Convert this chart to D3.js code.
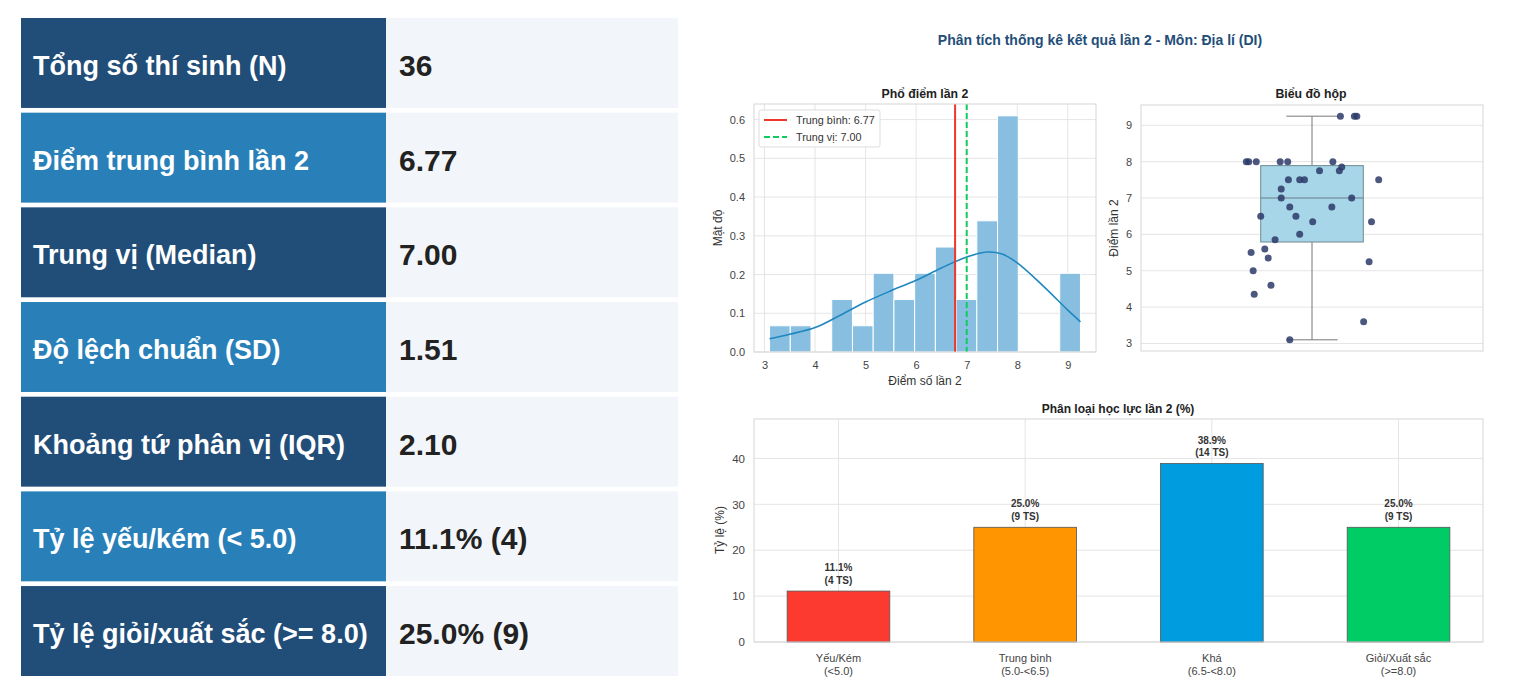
<!DOCTYPE html>
<html>
<head>
<meta charset="utf-8">
<script src="https://cdn.jsdelivr.net/npm/d3@7"></script>
<style>
    body { margin: 0; background: #fff; }
    svg { display: block; font-family: "Liberation Sans", Arial, sans-serif; }
    .grid line { stroke: #dedede; stroke-width: 0.8; }
    .tick text { fill: #444; }
</style>
</head>
<body>
<div id="chart"></div>
<script>
// ---- data ----
const statLabels = ['Tổng số thí sinh (N)', 'Điểm trung bình lần 2', 'Trung vị (Median)', 'Độ lệch chuẩn (SD)',
    'Khoảng tứ phân vị (IQR)', 'Tỷ lệ yếu/kém (< 5.0)', 'Tỷ lệ giỏi/xuất sắc (>= 8.0)'];
const statValues = ['36', '6.77', '7.00', '1.51', '2.10', '11.1% (4)', '25.0% (9)'];

// scores, with their horizontal jitter (category units)
const scores = [3.1, 3.6, 4.35, 4.6, 5.0, 5.25, 5.35, 5.5, 5.6, 5.85, 6.0, 6.35, 6.35, 6.5, 6.5, 6.75, 6.75,
    7.0, 7.0, 7.25, 7.5, 7.5, 7.5, 7.5, 7.75, 7.75, 7.85, 8.0, 8.0, 8.0, 8.0, 8.0, 8.0, 9.25, 9.25, 9.25];
const jitter = [-0.065, 0.151, -0.169, -0.120, -0.172, 0.167, -0.128, -0.178, -0.138, -0.108, -0.036, 0.002, 0.174,
    -0.150, -0.047, -0.065, 0.058, -0.090, 0.116, -0.090, -0.069, -0.036, -0.022, 0.195, 0.022, 0.080, 0.087,
    -0.192, -0.185, -0.163, -0.093, -0.071, 0.061, 0.083, 0.124, 0.131];

// kde curve
const kdeX = [3.1, 3.5, 4.0, 4.5, 5.0, 5.5, 6.0, 6.5, 7.0, 7.4, 7.7, 8.0, 8.5, 9.0, 9.25];
const kdeY = [0.034, 0.046, 0.063, 0.095, 0.129, 0.158, 0.185, 0.217, 0.245, 0.258, 0.253, 0.230, 0.172, 0.108, 0.078];

const meanVal = 6.77, medianVal = 7.00;
const q1 = 5.79, q3 = 7.89, whiskLo = 3.1, whiskHi = 9.25;

const classNames = ['Yếu/Kém', 'Trung bình', 'Khá', 'Giỏi/Xuất sắc'];
const classRanges = ['(<5.0)', '(5.0-<6.5)', '(6.5-<8.0)', '(>=8.0)'];
const classPct = [11.1, 25.0, 38.9, 25.0];
const classCount = [4, 9, 14, 9];
const classColors = ['#fd3a30', '#ff9500', '#009ce0', '#00cc66'];

const histTicksY = [0.0, 0.1, 0.2, 0.3, 0.4, 0.5, 0.6];
const scoreTicks = [3, 4, 5, 6, 7, 8, 9];
const pctTicks = [0, 10, 20, 30, 40];

const width = 1516, height = 700;
const svg = d3.select('#chart').append('svg').attr('width', width).attr('height', height);

// ---- stats table ----
const rowY = d3.scaleBand().domain(d3.range(statLabels.length)).range([18, 676]).paddingInner(0.05);
const rows = svg.append('g').selectAll('g').data(statLabels).enter().append('g')
    .attr('transform', (d, i) => 'translate(0,' + rowY(i) + ')');
rows.append('rect').attr('x', 21).attr('width', 365).attr('height', rowY.bandwidth())
    .attr('fill', (d, i) => i % 2 ? '#2980b9' : '#214d79');
rows.append('rect').attr('x', 386).attr('width', 292).attr('height', rowY.bandwidth())
    .attr('fill', '#f2f6fa');
rows.append('text').attr('x', 33).attr('y', rowY.bandwidth() / 2 + 12)
    .attr('fill', '#fff').attr('font-size', 27).attr('font-weight', 'bold').text(d => d);
rows.append('text').attr('x', 399).attr('y', rowY.bandwidth() / 2 + 13)
    .attr('fill', '#222').attr('font-size', 30).attr('font-weight', 'bold').text((d, i) => statValues[i]);

svg.append('text').attr('x', 1100).attr('y', 45).attr('text-anchor', 'middle')
    .attr('font-size', 14).attr('font-weight', 'bold').attr('fill', '#1f4e79')
    .text('Phân tích thống kê kết quả lần 2 - Môn: Địa lí (DI)');

function frame(g, x0, y0, w, h) {
    g.append('rect').attr('x', x0).attr('y', y0).attr('width', w).attr('height', h)
        .attr('fill', 'none').attr('stroke', '#d6d6d6').attr('stroke-width', 1);
}

// ---- histogram ----
const hx = d3.scaleLinear().domain([2.7925, 9.5575]).range([754, 1096]);
const hy = d3.scaleLinear().domain([0, 0.6403]).range([352, 104]);
const hist = svg.append('g');

hist.append('g').attr('class', 'grid').selectAll('line').data(scoreTicks).enter().append('line')
    .attr('x1', d => hx(d)).attr('x2', d => hx(d)).attr('y1', 104).attr('y2', 352);
hist.append('g').attr('class', 'grid').selectAll('line').data(histTicksY).enter().append('line')
    .attr('x1', 754).attr('x2', 1096).attr('y1', d => hy(d)).attr('y2', d => hy(d));

const binW = (whiskHi - whiskLo) / 15;
const bins = d3.bin().domain([whiskLo, whiskHi])
    .thresholds(d3.range(1, 15).map(i => whiskLo + i * binW))(scores);
hist.append('g').selectAll('rect').data(bins).enter().append('rect')
    .attr('x', d => hx(d.x0)).attr('width', d => hx(d.x1) - hx(d.x0))
    .attr('y', d => hy(d.length / (scores.length * binW)))
    .attr('height', d => hy(0) - hy(d.length / (scores.length * binW)))
    .attr('fill', '#88bfe0').attr('stroke', '#fff').attr('stroke-width', 1);

hist.append('path').datum(kdeX.map((x, i) => [x, kdeY[i]]))
    .attr('d', d3.line().x(d => hx(d[0])).y(d => hy(d[1])).curve(d3.curveCatmullRom))
    .attr('fill', 'none').attr('stroke', '#1f87c0').attr('stroke-width', 1.6);

hist.append('line').attr('x1', hx(meanVal)).attr('x2', hx(meanVal)).attr('y1', 104).attr('y2', 352)
    .attr('stroke', '#f0362b').attr('stroke-width', 2);
hist.append('line').attr('x1', hx(medianVal)).attr('x2', hx(medianVal)).attr('y1', 104).attr('y2', 352)
    .attr('stroke', '#10cc60').attr('stroke-width', 2).attr('stroke-dasharray', '6,3');
frame(hist, 754, 104, 342, 248);

hist.append('g').attr('transform', 'translate(0,352)')
    .call(d3.axisBottom(hx).tickValues(scoreTicks).tickSize(0).tickPadding(9).tickFormat(d3.format('d')))
    .call(g => g.select('.domain').remove())
    .selectAll('text').attr('font-size', 11);
hist.append('g').attr('transform', 'translate(754,0)')
    .call(d3.axisLeft(hy).tickValues(histTicksY).tickSize(0).tickPadding(9).tickFormat(d3.format('.1f')))
    .call(g => g.select('.domain').remove())
    .selectAll('text').attr('font-size', 11);

hist.append('text').attr('x', 925).attr('y', 98).attr('text-anchor', 'middle')
    .attr('font-size', 12.3).attr('font-weight', 'bold').attr('fill', '#222').text('Phổ điểm lần 2');
hist.append('text').attr('x', 925).attr('y', 385).attr('text-anchor', 'middle')
    .attr('font-size', 12).attr('fill', '#333').text('Điểm số lần 2');
hist.append('text').attr('transform', 'translate(722,228) rotate(-90)').attr('text-anchor', 'middle')
    .attr('font-size', 12).attr('fill', '#333').text('Mật độ');

const leg = hist.append('g').attr('transform', 'translate(759,110)');
leg.append('rect').attr('width', 121).attr('height', 37).attr('rx', 2)
    .attr('fill', 'rgba(255,255,255,0.85)').attr('stroke', '#ddd');
leg.append('line').attr('x1', 5).attr('x2', 28).attr('y1', 10).attr('y2', 10)
    .attr('stroke', '#f0362b').attr('stroke-width', 2);
leg.append('line').attr('x1', 5).attr('x2', 28).attr('y1', 27).attr('y2', 27)
    .attr('stroke', '#10cc60').attr('stroke-width', 2).attr('stroke-dasharray', '6,3');
leg.append('text').attr('x', 37).attr('y', 14).attr('font-size', 10.8).attr('fill', '#333')
    .text('Trung bình: ' + meanVal.toFixed(2));
leg.append('text').attr('x', 37).attr('y', 31).attr('font-size', 10.8).attr('fill', '#333')
    .text('Trung vị: ' + medianVal.toFixed(2));

// ---- box plot ----
const bx = d3.scaleLinear().domain([-0.5, 0.5]).range([1141, 1483]);
const by = d3.scaleLinear().domain([2.7925, 9.5575]).range([351, 105]);
const box = svg.append('g');

box.append('g').attr('class', 'grid').selectAll('line').data(scoreTicks).enter().append('line')
    .attr('x1', 1141).attr('x2', 1483).attr('y1', d => by(d)).attr('y2', d => by(d));

box.append('line').attr('x1', bx(0)).attr('x2', bx(0)).attr('y1', by(whiskHi)).attr('y2', by(q3))
    .attr('stroke', '#777').attr('stroke-width', 1);
box.append('line').attr('x1', bx(0)).attr('x2', bx(0)).attr('y1', by(q1)).attr('y2', by(whiskLo))
    .attr('stroke', '#777').attr('stroke-width', 1);
box.selectAll('.cap').data([whiskLo, whiskHi]).enter().append('line')
    .attr('x1', bx(-0.075)).attr('x2', bx(0.075)).attr('y1', d => by(d)).attr('y2', d => by(d))
    .attr('stroke', '#777').attr('stroke-width', 1);
box.append('rect').attr('x', bx(-0.15)).attr('width', bx(0.15) - bx(-0.15))
    .attr('y', by(q3)).attr('height', by(q1) - by(q3))
    .attr('fill', '#a6d6e7').attr('stroke', '#6f8a94').attr('stroke-width', 1);
box.append('line').attr('x1', bx(-0.15)).attr('x2', bx(0.15)).attr('y1', by(medianVal)).attr('y2', by(medianVal))
    .attr('stroke', '#6a7f88').attr('stroke-width', 1.2);

box.append('g').selectAll('circle').data(scores).enter().append('circle')
    .attr('cx', (d, i) => bx(jitter[i])).attr('cy', d => by(d)).attr('r', 3.5)
    .attr('fill', '#2c3a68').attr('fill-opacity', 0.85);
frame(box, 1141, 105, 342, 246);

box.append('g').attr('transform', 'translate(1141,0)')
    .call(d3.axisLeft(by).tickValues(scoreTicks).tickSize(0).tickPadding(9).tickFormat(d3.format('d')))
    .call(g => g.select('.domain').remove())
    .selectAll('text').attr('font-size', 11);
box.append('text').attr('x', 1311).attr('y', 98).attr('text-anchor', 'middle')
    .attr('font-size', 12.3).attr('font-weight', 'bold').attr('fill', '#222').text('Biểu đồ hộp');
box.append('text').attr('transform', 'translate(1118,228) rotate(-90)').attr('text-anchor', 'middle')
    .attr('font-size', 12).attr('fill', '#333').text('Điểm lần 2');

// ---- category bars ----
const cx = d3.scaleLinear().domain([-0.4525, 3.4525]).range([754, 1483]);
const cy = d3.scaleLinear().domain([0, 48.6]).range([642, 419]);
const bars = svg.append('g');
const idx = d3.range(classNames.length);

bars.append('g').attr('class', 'grid').selectAll('line').data(idx).enter().append('line')
    .attr('x1', d => cx(d)).attr('x2', d => cx(d)).attr('y1', 419).attr('y2', 642);
bars.append('g').attr('class', 'grid').selectAll('line').data(pctTicks).enter().append('line')
    .attr('x1', 754).attr('x2', 1483).attr('y1', d => cy(d)).attr('y2', d => cy(d));

bars.append('g').selectAll('rect').data(idx).enter().append('rect')
    .attr('x', d => cx(d - 0.275)).attr('width', cx(0.275) - cx(-0.275))
    .attr('y', d => cy(classPct[d])).attr('height', d => cy(0) - cy(classPct[d]))
    .attr('fill', d => classColors[d]).attr('stroke', '#555').attr('stroke-width', 0.8);

const lbl = bars.append('g').selectAll('text').data(idx).enter().append('text')
    .attr('x', d => cx(d)).attr('y', d => cy(classPct[d]) - 20)
    .attr('text-anchor', 'middle').attr('font-size', 10).attr('font-weight', 'bold').attr('fill', '#333');
lbl.append('tspan').attr('x', d => cx(d)).text(d => classPct[d].toFixed(1) + '%');
lbl.append('tspan').attr('x', d => cx(d)).attr('dy', 12.5).text(d => '(' + classCount[d] + ' TS)');
frame(bars, 754, 419, 729, 223);

const xt = bars.append('g').selectAll('text').data(idx).enter().append('text')
    .attr('x', d => cx(d)).attr('y', 662).attr('text-anchor', 'middle')
    .attr('font-size', 11).attr('fill', '#444');
xt.append('tspan').attr('x', d => cx(d)).text(d => classNames[d]);
xt.append('tspan').attr('x', d => cx(d)).attr('dy', 13).text(d => classRanges[d]);

bars.append('g').attr('transform', 'translate(754,0)')
    .call(d3.axisLeft(cy).tickValues(pctTicks).tickSize(0).tickPadding(9).tickFormat(d3.format('d')))
    .call(g => g.select('.domain').remove())
    .selectAll('text').attr('font-size', 11.5);
bars.append('text').attr('x', 1118).attr('y', 413).attr('text-anchor', 'middle')
    .attr('font-size', 12).attr('font-weight', 'bold').attr('fill', '#222').text('Phân loại học lực lần 2 (%)');
bars.append('text').attr('transform', 'translate(724,530) rotate(-90)').attr('text-anchor', 'middle')
    .attr('font-size', 12).attr('fill', '#333').text('Tỷ lệ (%)');
</script>
</body>
</html>
